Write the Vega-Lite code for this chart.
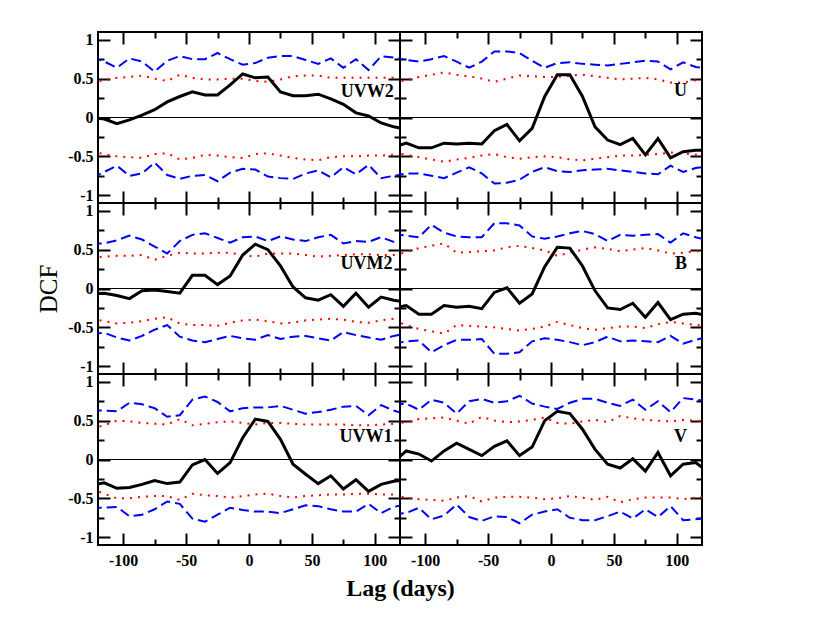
{
  "$schema": "https://vega.github.io/schema/vega-lite/v6.json",
  "background": "white",
  "padding": {"left": 35, "top": 30, "right": 10, "bottom": 10},
  "data": {
    "values": [
      {"band":"UVW2","lag":-125,"dcf":0.00,"r_hi":0.45,"r_lo":-0.44,"b_hi":0.78,"b_lo":-0.78},
      {"band":"UVW2","lag":-115,"dcf":-0.02,"r_hi":0.48,"r_lo":-0.47,"b_hi":0.72,"b_lo":-0.70},
      {"band":"UVW2","lag":-105,"dcf":-0.08,"r_hi":0.51,"r_lo":-0.50,"b_hi":0.64,"b_lo":-0.62},
      {"band":"UVW2","lag":-95,"dcf":-0.03,"r_hi":0.52,"r_lo":-0.51,"b_hi":0.76,"b_lo":-0.75},
      {"band":"UVW2","lag":-85,"dcf":0.03,"r_hi":0.54,"r_lo":-0.52,"b_hi":0.72,"b_lo":-0.72},
      {"band":"UVW2","lag":-75,"dcf":0.10,"r_hi":0.50,"r_lo":-0.47,"b_hi":0.59,"b_lo":-0.58},
      {"band":"UVW2","lag":-65,"dcf":0.20,"r_hi":0.47,"r_lo":-0.46,"b_hi":0.73,"b_lo":-0.74},
      {"band":"UVW2","lag":-55,"dcf":0.27,"r_hi":0.55,"r_lo":-0.54,"b_hi":0.79,"b_lo":-0.79},
      {"band":"UVW2","lag":-45,"dcf":0.33,"r_hi":0.51,"r_lo":-0.52,"b_hi":0.75,"b_lo":-0.75},
      {"band":"UVW2","lag":-35,"dcf":0.29,"r_hi":0.49,"r_lo":-0.48,"b_hi":0.75,"b_lo":-0.74},
      {"band":"UVW2","lag":-25,"dcf":0.29,"r_hi":0.49,"r_lo":-0.49,"b_hi":0.83,"b_lo":-0.82},
      {"band":"UVW2","lag":-15,"dcf":0.42,"r_hi":0.50,"r_lo":-0.51,"b_hi":0.75,"b_lo":-0.71},
      {"band":"UVW2","lag":-5,"dcf":0.56,"r_hi":0.50,"r_lo":-0.52,"b_hi":0.68,"b_lo":-0.66},
      {"band":"UVW2","lag":5,"dcf":0.51,"r_hi":0.47,"r_lo":-0.47,"b_hi":0.70,"b_lo":-0.67},
      {"band":"UVW2","lag":15,"dcf":0.52,"r_hi":0.46,"r_lo":-0.46,"b_hi":0.77,"b_lo":-0.76},
      {"band":"UVW2","lag":25,"dcf":0.33,"r_hi":0.49,"r_lo":-0.49,"b_hi":0.79,"b_lo":-0.78},
      {"band":"UVW2","lag":35,"dcf":0.28,"r_hi":0.53,"r_lo":-0.52,"b_hi":0.79,"b_lo":-0.79},
      {"band":"UVW2","lag":45,"dcf":0.28,"r_hi":0.54,"r_lo":-0.54,"b_hi":0.74,"b_lo":-0.72},
      {"band":"UVW2","lag":55,"dcf":0.30,"r_hi":0.54,"r_lo":-0.55,"b_hi":0.69,"b_lo":-0.68},
      {"band":"UVW2","lag":65,"dcf":0.24,"r_hi":0.51,"r_lo":-0.51,"b_hi":0.76,"b_lo":-0.77},
      {"band":"UVW2","lag":75,"dcf":0.17,"r_hi":0.51,"r_lo":-0.50,"b_hi":0.64,"b_lo":-0.64},
      {"band":"UVW2","lag":85,"dcf":0.06,"r_hi":0.51,"r_lo":-0.50,"b_hi":0.75,"b_lo":-0.73},
      {"band":"UVW2","lag":95,"dcf":0.02,"r_hi":0.51,"r_lo":-0.49,"b_hi":0.61,"b_lo":-0.61},
      {"band":"UVW2","lag":105,"dcf":-0.07,"r_hi":0.51,"r_lo":-0.49,"b_hi":0.79,"b_lo":-0.78},
      {"band":"UVW2","lag":115,"dcf":-0.12,"r_hi":0.51,"r_lo":-0.48,"b_hi":0.77,"b_lo":-0.75},
      {"band":"UVW2","lag":125,"dcf":-0.15,"r_hi":0.50,"r_lo":-0.48,"b_hi":0.75,"b_lo":-0.73},

      {"band":"U","lag":-125,"dcf":-0.38,"r_hi":0.45,"r_lo":-0.45,"b_hi":0.77,"b_lo":-0.75},
      {"band":"U","lag":-115,"dcf":-0.33,"r_hi":0.48,"r_lo":-0.48,"b_hi":0.74,"b_lo":-0.72},
      {"band":"U","lag":-105,"dcf":-0.39,"r_hi":0.52,"r_lo":-0.51,"b_hi":0.72,"b_lo":-0.72},
      {"band":"U","lag":-95,"dcf":-0.39,"r_hi":0.55,"r_lo":-0.54,"b_hi":0.75,"b_lo":-0.75},
      {"band":"U","lag":-85,"dcf":-0.33,"r_hi":0.58,"r_lo":-0.57,"b_hi":0.79,"b_lo":-0.78},
      {"band":"U","lag":-75,"dcf":-0.34,"r_hi":0.55,"r_lo":-0.54,"b_hi":0.72,"b_lo":-0.71},
      {"band":"U","lag":-65,"dcf":-0.33,"r_hi":0.53,"r_lo":-0.52,"b_hi":0.64,"b_lo":-0.64},
      {"band":"U","lag":-55,"dcf":-0.34,"r_hi":0.50,"r_lo":-0.49,"b_hi":0.72,"b_lo":-0.72},
      {"band":"U","lag":-45,"dcf":-0.17,"r_hi":0.46,"r_lo":-0.47,"b_hi":0.85,"b_lo":-0.85},
      {"band":"U","lag":-35,"dcf":-0.09,"r_hi":0.50,"r_lo":-0.51,"b_hi":0.85,"b_lo":-0.84},
      {"band":"U","lag":-25,"dcf":-0.30,"r_hi":0.54,"r_lo":-0.53,"b_hi":0.83,"b_lo":-0.80},
      {"band":"U","lag":-15,"dcf":-0.14,"r_hi":0.53,"r_lo":-0.51,"b_hi":0.73,"b_lo":-0.70},
      {"band":"U","lag":-5,"dcf":0.27,"r_hi":0.52,"r_lo":-0.50,"b_hi":0.64,"b_lo":-0.64},
      {"band":"U","lag":5,"dcf":0.55,"r_hi":0.52,"r_lo":-0.51,"b_hi":0.70,"b_lo":-0.69},
      {"band":"U","lag":15,"dcf":0.55,"r_hi":0.54,"r_lo":-0.54,"b_hi":0.71,"b_lo":-0.70},
      {"band":"U","lag":25,"dcf":0.27,"r_hi":0.55,"r_lo":-0.55,"b_hi":0.69,"b_lo":-0.68},
      {"band":"U","lag":35,"dcf":-0.12,"r_hi":0.53,"r_lo":-0.53,"b_hi":0.68,"b_lo":-0.67},
      {"band":"U","lag":45,"dcf":-0.29,"r_hi":0.51,"r_lo":-0.51,"b_hi":0.67,"b_lo":-0.66},
      {"band":"U","lag":55,"dcf":-0.35,"r_hi":0.49,"r_lo":-0.49,"b_hi":0.69,"b_lo":-0.68},
      {"band":"U","lag":65,"dcf":-0.27,"r_hi":0.50,"r_lo":-0.49,"b_hi":0.71,"b_lo":-0.70},
      {"band":"U","lag":75,"dcf":-0.48,"r_hi":0.51,"r_lo":-0.48,"b_hi":0.73,"b_lo":-0.72},
      {"band":"U","lag":85,"dcf":-0.27,"r_hi":0.49,"r_lo":-0.47,"b_hi":0.72,"b_lo":-0.73},
      {"band":"U","lag":95,"dcf":-0.52,"r_hi":0.45,"r_lo":-0.45,"b_hi":0.62,"b_lo":-0.62},
      {"band":"U","lag":105,"dcf":-0.44,"r_hi":0.45,"r_lo":-0.46,"b_hi":0.71,"b_lo":-0.70},
      {"band":"U","lag":115,"dcf":-0.42,"r_hi":0.48,"r_lo":-0.48,"b_hi":0.65,"b_lo":-0.65},
      {"band":"U","lag":125,"dcf":-0.42,"r_hi":0.50,"r_lo":-0.48,"b_hi":0.63,"b_lo":-0.63},

      {"band":"UVM2","lag":-125,"dcf":-0.07,"r_hi":0.40,"r_lo":-0.39,"b_hi":0.58,"b_lo":-0.58},
      {"band":"UVM2","lag":-115,"dcf":-0.06,"r_hi":0.41,"r_lo":-0.42,"b_hi":0.58,"b_lo":-0.57},
      {"band":"UVM2","lag":-105,"dcf":-0.09,"r_hi":0.42,"r_lo":-0.45,"b_hi":0.62,"b_lo":-0.63},
      {"band":"UVM2","lag":-95,"dcf":-0.13,"r_hi":0.42,"r_lo":-0.44,"b_hi":0.68,"b_lo":-0.67},
      {"band":"UVM2","lag":-85,"dcf":-0.03,"r_hi":0.43,"r_lo":-0.42,"b_hi":0.63,"b_lo":-0.61},
      {"band":"UVM2","lag":-75,"dcf":-0.02,"r_hi":0.37,"r_lo":-0.39,"b_hi":0.54,"b_lo":-0.53},
      {"band":"UVM2","lag":-65,"dcf":-0.04,"r_hi":0.42,"r_lo":-0.37,"b_hi":0.45,"b_lo":-0.47},
      {"band":"UVM2","lag":-55,"dcf":-0.06,"r_hi":0.46,"r_lo":-0.45,"b_hi":0.61,"b_lo":-0.62},
      {"band":"UVM2","lag":-45,"dcf":0.17,"r_hi":0.45,"r_lo":-0.47,"b_hi":0.69,"b_lo":-0.67},
      {"band":"UVM2","lag":-35,"dcf":0.17,"r_hi":0.45,"r_lo":-0.47,"b_hi":0.71,"b_lo":-0.69},
      {"band":"UVM2","lag":-25,"dcf":0.05,"r_hi":0.46,"r_lo":-0.48,"b_hi":0.65,"b_lo":-0.65},
      {"band":"UVM2","lag":-15,"dcf":0.16,"r_hi":0.46,"r_lo":-0.44,"b_hi":0.59,"b_lo":-0.61},
      {"band":"UVM2","lag":-5,"dcf":0.43,"r_hi":0.43,"r_lo":-0.41,"b_hi":0.66,"b_lo":-0.64},
      {"band":"UVM2","lag":5,"dcf":0.57,"r_hi":0.41,"r_lo":-0.40,"b_hi":0.67,"b_lo":-0.66},
      {"band":"UVM2","lag":15,"dcf":0.50,"r_hi":0.45,"r_lo":-0.42,"b_hi":0.61,"b_lo":-0.60},
      {"band":"UVM2","lag":25,"dcf":0.29,"r_hi":0.45,"r_lo":-0.45,"b_hi":0.67,"b_lo":-0.65},
      {"band":"UVM2","lag":35,"dcf":0.02,"r_hi":0.45,"r_lo":-0.44,"b_hi":0.63,"b_lo":-0.62},
      {"band":"UVM2","lag":45,"dcf":-0.12,"r_hi":0.43,"r_lo":-0.41,"b_hi":0.61,"b_lo":-0.61},
      {"band":"UVM2","lag":55,"dcf":-0.15,"r_hi":0.41,"r_lo":-0.40,"b_hi":0.66,"b_lo":-0.64},
      {"band":"UVM2","lag":65,"dcf":-0.08,"r_hi":0.42,"r_lo":-0.39,"b_hi":0.69,"b_lo":-0.67},
      {"band":"UVM2","lag":75,"dcf":-0.23,"r_hi":0.43,"r_lo":-0.40,"b_hi":0.58,"b_lo":-0.56},
      {"band":"UVM2","lag":85,"dcf":-0.06,"r_hi":0.44,"r_lo":-0.43,"b_hi":0.61,"b_lo":-0.60},
      {"band":"UVM2","lag":95,"dcf":-0.24,"r_hi":0.44,"r_lo":-0.44,"b_hi":0.60,"b_lo":-0.63},
      {"band":"UVM2","lag":105,"dcf":-0.11,"r_hi":0.43,"r_lo":-0.41,"b_hi":0.66,"b_lo":-0.66},
      {"band":"UVM2","lag":115,"dcf":-0.15,"r_hi":0.43,"r_lo":-0.39,"b_hi":0.60,"b_lo":-0.61},
      {"band":"UVM2","lag":125,"dcf":-0.18,"r_hi":0.43,"r_lo":-0.38,"b_hi":0.60,"b_lo":-0.58},

      {"band":"B","lag":-125,"dcf":-0.25,"r_hi":0.42,"r_lo":-0.41,"b_hi":0.70,"b_lo":-0.71},
      {"band":"B","lag":-115,"dcf":-0.22,"r_hi":0.47,"r_lo":-0.47,"b_hi":0.68,"b_lo":-0.68},
      {"band":"B","lag":-105,"dcf":-0.33,"r_hi":0.52,"r_lo":-0.52,"b_hi":0.66,"b_lo":-0.67},
      {"band":"B","lag":-95,"dcf":-0.33,"r_hi":0.55,"r_lo":-0.55,"b_hi":0.82,"b_lo":-0.82},
      {"band":"B","lag":-85,"dcf":-0.22,"r_hi":0.58,"r_lo":-0.58,"b_hi":0.72,"b_lo":-0.73},
      {"band":"B","lag":-75,"dcf":-0.24,"r_hi":0.46,"r_lo":-0.47,"b_hi":0.67,"b_lo":-0.66},
      {"band":"B","lag":-65,"dcf":-0.23,"r_hi":0.47,"r_lo":-0.48,"b_hi":0.66,"b_lo":-0.66},
      {"band":"B","lag":-55,"dcf":-0.26,"r_hi":0.48,"r_lo":-0.49,"b_hi":0.66,"b_lo":-0.65},
      {"band":"B","lag":-45,"dcf":-0.05,"r_hi":0.49,"r_lo":-0.50,"b_hi":0.84,"b_lo":-0.84},
      {"band":"B","lag":-35,"dcf":0.01,"r_hi":0.53,"r_lo":-0.52,"b_hi":0.84,"b_lo":-0.84},
      {"band":"B","lag":-25,"dcf":-0.19,"r_hi":0.55,"r_lo":-0.54,"b_hi":0.81,"b_lo":-0.82},
      {"band":"B","lag":-15,"dcf":-0.07,"r_hi":0.52,"r_lo":-0.52,"b_hi":0.67,"b_lo":-0.68},
      {"band":"B","lag":-5,"dcf":0.28,"r_hi":0.49,"r_lo":-0.49,"b_hi":0.64,"b_lo":-0.64},
      {"band":"B","lag":5,"dcf":0.53,"r_hi":0.42,"r_lo":-0.43,"b_hi":0.67,"b_lo":-0.66},
      {"band":"B","lag":15,"dcf":0.52,"r_hi":0.46,"r_lo":-0.47,"b_hi":0.71,"b_lo":-0.69},
      {"band":"B","lag":25,"dcf":0.29,"r_hi":0.50,"r_lo":-0.51,"b_hi":0.74,"b_lo":-0.73},
      {"band":"B","lag":35,"dcf":-0.03,"r_hi":0.53,"r_lo":-0.53,"b_hi":0.70,"b_lo":-0.69},
      {"band":"B","lag":45,"dcf":-0.25,"r_hi":0.51,"r_lo":-0.51,"b_hi":0.61,"b_lo":-0.62},
      {"band":"B","lag":55,"dcf":-0.27,"r_hi":0.48,"r_lo":-0.49,"b_hi":0.69,"b_lo":-0.68},
      {"band":"B","lag":65,"dcf":-0.19,"r_hi":0.50,"r_lo":-0.49,"b_hi":0.68,"b_lo":-0.67},
      {"band":"B","lag":75,"dcf":-0.37,"r_hi":0.52,"r_lo":-0.51,"b_hi":0.69,"b_lo":-0.68},
      {"band":"B","lag":85,"dcf":-0.18,"r_hi":0.49,"r_lo":-0.46,"b_hi":0.70,"b_lo":-0.69},
      {"band":"B","lag":95,"dcf":-0.40,"r_hi":0.45,"r_lo":-0.43,"b_hi":0.59,"b_lo":-0.61},
      {"band":"B","lag":105,"dcf":-0.33,"r_hi":0.46,"r_lo":-0.45,"b_hi":0.71,"b_lo":-0.71},
      {"band":"B","lag":115,"dcf":-0.32,"r_hi":0.48,"r_lo":-0.47,"b_hi":0.66,"b_lo":-0.66},
      {"band":"B","lag":125,"dcf":-0.35,"r_hi":0.48,"r_lo":-0.48,"b_hi":0.62,"b_lo":-0.62},

      {"band":"UVW1","lag":-125,"dcf":-0.33,"r_hi":0.40,"r_lo":-0.38,"b_hi":0.63,"b_lo":-0.62},
      {"band":"UVW1","lag":-115,"dcf":-0.30,"r_hi":0.44,"r_lo":-0.44,"b_hi":0.63,"b_lo":-0.62},
      {"band":"UVW1","lag":-105,"dcf":-0.37,"r_hi":0.50,"r_lo":-0.50,"b_hi":0.62,"b_lo":-0.61},
      {"band":"UVW1","lag":-95,"dcf":-0.36,"r_hi":0.49,"r_lo":-0.50,"b_hi":0.73,"b_lo":-0.73},
      {"band":"UVW1","lag":-85,"dcf":-0.32,"r_hi":0.47,"r_lo":-0.48,"b_hi":0.71,"b_lo":-0.71},
      {"band":"UVW1","lag":-75,"dcf":-0.27,"r_hi":0.46,"r_lo":-0.47,"b_hi":0.66,"b_lo":-0.64},
      {"band":"UVW1","lag":-65,"dcf":-0.31,"r_hi":0.45,"r_lo":-0.47,"b_hi":0.55,"b_lo":-0.54},
      {"band":"UVW1","lag":-55,"dcf":-0.29,"r_hi":0.52,"r_lo":-0.52,"b_hi":0.57,"b_lo":-0.57},
      {"band":"UVW1","lag":-45,"dcf":-0.07,"r_hi":0.44,"r_lo":-0.44,"b_hi":0.77,"b_lo":-0.76},
      {"band":"UVW1","lag":-35,"dcf":0.00,"r_hi":0.46,"r_lo":-0.46,"b_hi":0.81,"b_lo":-0.80},
      {"band":"UVW1","lag":-25,"dcf":-0.18,"r_hi":0.48,"r_lo":-0.47,"b_hi":0.74,"b_lo":-0.71},
      {"band":"UVW1","lag":-15,"dcf":-0.04,"r_hi":0.49,"r_lo":-0.49,"b_hi":0.62,"b_lo":-0.62},
      {"band":"UVW1","lag":-5,"dcf":0.28,"r_hi":0.47,"r_lo":-0.47,"b_hi":0.66,"b_lo":-0.65},
      {"band":"UVW1","lag":5,"dcf":0.52,"r_hi":0.45,"r_lo":-0.45,"b_hi":0.67,"b_lo":-0.67},
      {"band":"UVW1","lag":15,"dcf":0.49,"r_hi":0.47,"r_lo":-0.44,"b_hi":0.67,"b_lo":-0.67},
      {"band":"UVW1","lag":25,"dcf":0.26,"r_hi":0.47,"r_lo":-0.47,"b_hi":0.69,"b_lo":-0.69},
      {"band":"UVW1","lag":35,"dcf":-0.06,"r_hi":0.46,"r_lo":-0.49,"b_hi":0.64,"b_lo":-0.64},
      {"band":"UVW1","lag":45,"dcf":-0.19,"r_hi":0.45,"r_lo":-0.47,"b_hi":0.59,"b_lo":-0.59},
      {"band":"UVW1","lag":55,"dcf":-0.31,"r_hi":0.45,"r_lo":-0.46,"b_hi":0.61,"b_lo":-0.60},
      {"band":"UVW1","lag":65,"dcf":-0.21,"r_hi":0.45,"r_lo":-0.45,"b_hi":0.64,"b_lo":-0.64},
      {"band":"UVW1","lag":75,"dcf":-0.38,"r_hi":0.45,"r_lo":-0.45,"b_hi":0.68,"b_lo":-0.67},
      {"band":"UVW1","lag":85,"dcf":-0.26,"r_hi":0.44,"r_lo":-0.44,"b_hi":0.69,"b_lo":-0.67},
      {"band":"UVW1","lag":95,"dcf":-0.41,"r_hi":0.44,"r_lo":-0.44,"b_hi":0.57,"b_lo":-0.57},
      {"band":"UVW1","lag":105,"dcf":-0.32,"r_hi":0.45,"r_lo":-0.45,"b_hi":0.70,"b_lo":-0.69},
      {"band":"UVW1","lag":115,"dcf":-0.28,"r_hi":0.46,"r_lo":-0.45,"b_hi":0.63,"b_lo":-0.61},
      {"band":"UVW1","lag":125,"dcf":-0.26,"r_hi":0.47,"r_lo":-0.45,"b_hi":0.58,"b_lo":-0.58},

      {"band":"V","lag":-125,"dcf":-0.03,"r_hi":0.46,"r_lo":-0.47,"b_hi":0.70,"b_lo":-0.70},
      {"band":"V","lag":-115,"dcf":0.11,"r_hi":0.48,"r_lo":-0.49,"b_hi":0.72,"b_lo":-0.69},
      {"band":"V","lag":-105,"dcf":0.07,"r_hi":0.52,"r_lo":-0.51,"b_hi":0.64,"b_lo":-0.62},
      {"band":"V","lag":-95,"dcf":-0.02,"r_hi":0.53,"r_lo":-0.52,"b_hi":0.77,"b_lo":-0.77},
      {"band":"V","lag":-85,"dcf":0.11,"r_hi":0.54,"r_lo":-0.53,"b_hi":0.73,"b_lo":-0.72},
      {"band":"V","lag":-75,"dcf":0.21,"r_hi":0.50,"r_lo":-0.49,"b_hi":0.59,"b_lo":-0.58},
      {"band":"V","lag":-65,"dcf":0.13,"r_hi":0.46,"r_lo":-0.47,"b_hi":0.75,"b_lo":-0.74},
      {"band":"V","lag":-55,"dcf":0.05,"r_hi":0.55,"r_lo":-0.54,"b_hi":0.78,"b_lo":-0.79},
      {"band":"V","lag":-45,"dcf":0.17,"r_hi":0.50,"r_lo":-0.49,"b_hi":0.73,"b_lo":-0.73},
      {"band":"V","lag":-35,"dcf":0.24,"r_hi":0.48,"r_lo":-0.48,"b_hi":0.75,"b_lo":-0.74},
      {"band":"V","lag":-25,"dcf":0.05,"r_hi":0.49,"r_lo":-0.48,"b_hi":0.82,"b_lo":-0.82},
      {"band":"V","lag":-15,"dcf":0.16,"r_hi":0.51,"r_lo":-0.49,"b_hi":0.72,"b_lo":-0.71},
      {"band":"V","lag":-5,"dcf":0.50,"r_hi":0.54,"r_lo":-0.51,"b_hi":0.68,"b_lo":-0.67},
      {"band":"V","lag":5,"dcf":0.62,"r_hi":0.47,"r_lo":-0.50,"b_hi":0.65,"b_lo":-0.64},
      {"band":"V","lag":15,"dcf":0.59,"r_hi":0.46,"r_lo":-0.47,"b_hi":0.73,"b_lo":-0.75},
      {"band":"V","lag":25,"dcf":0.39,"r_hi":0.49,"r_lo":-0.49,"b_hi":0.78,"b_lo":-0.78},
      {"band":"V","lag":35,"dcf":0.13,"r_hi":0.51,"r_lo":-0.52,"b_hi":0.78,"b_lo":-0.78},
      {"band":"V","lag":45,"dcf":-0.06,"r_hi":0.48,"r_lo":-0.48,"b_hi":0.73,"b_lo":-0.73},
      {"band":"V","lag":55,"dcf":-0.11,"r_hi":0.56,"r_lo":-0.55,"b_hi":0.69,"b_lo":-0.67},
      {"band":"V","lag":65,"dcf":0.01,"r_hi":0.53,"r_lo":-0.51,"b_hi":0.77,"b_lo":-0.76},
      {"band":"V","lag":75,"dcf":-0.15,"r_hi":0.51,"r_lo":-0.49,"b_hi":0.64,"b_lo":-0.64},
      {"band":"V","lag":85,"dcf":0.09,"r_hi":0.50,"r_lo":-0.49,"b_hi":0.75,"b_lo":-0.74},
      {"band":"V","lag":95,"dcf":-0.21,"r_hi":0.49,"r_lo":-0.49,"b_hi":0.61,"b_lo":-0.60},
      {"band":"V","lag":105,"dcf":-0.06,"r_hi":0.51,"r_lo":-0.51,"b_hi":0.79,"b_lo":-0.78},
      {"band":"V","lag":115,"dcf":-0.04,"r_hi":0.50,"r_lo":-0.49,"b_hi":0.77,"b_lo":-0.77},
      {"band":"V","lag":125,"dcf":-0.16,"r_hi":0.49,"r_lo":-0.47,"b_hi":0.75,"b_lo":-0.75}
    ]
  },
  "columns": 2,
  "spacing": 0,
  "bounds": "flush",
  "concat": [
    {
      "width": 302, "height": 171,
      "resolve": {"axis": {"x": "independent", "y": "independent"}},
      "layer": [
        {"transform": [{"filter": "datum.band === 'UVW2'"}], "mark": {"type": "line", "clip": true, "color": "#0000ff", "strokeWidth": 2, "strokeDash": [10, 5]},
         "encoding": {"x": {"field": "lag", "type": "quantitative", "axis": null}, "y": {"field": "b_hi", "type": "quantitative", "axis": null}}},
        {"transform": [{"filter": "datum.band === 'UVW2'"}], "mark": {"type": "line", "clip": true, "color": "#0000ff", "strokeWidth": 2, "strokeDash": [10, 5]},
         "encoding": {"x": {"field": "lag", "type": "quantitative", "axis": null}, "y": {"field": "b_lo", "type": "quantitative", "axis": null}}},
        {"transform": [{"filter": "datum.band === 'UVW2'"}], "mark": {"type": "line", "clip": true, "color": "#ff0000", "strokeWidth": 2, "strokeDash": [2, 6]},
         "encoding": {"x": {"field": "lag", "type": "quantitative", "axis": null}, "y": {"field": "r_hi", "type": "quantitative", "axis": null}}},
        {"transform": [{"filter": "datum.band === 'UVW2'"}], "mark": {"type": "line", "clip": true, "color": "#ff0000", "strokeWidth": 2, "strokeDash": [2, 6]},
         "encoding": {"x": {"field": "lag", "type": "quantitative", "axis": null}, "y": {"field": "r_lo", "type": "quantitative", "axis": null}}},
        {"data": {"values": [{}]}, "mark": {"type": "rule", "color": "black", "strokeWidth": 1},
         "encoding": {
           "x": {"datum": -120, "type": "quantitative", "axis": {"orient": "top", "values": [-100, -75, -50, -25, 0, 25, 50, 75, 100], "tickSize": {"condition": {"test": "datum.value % 50 === 0", "value": -12}, "value": -6}, "labels": false, "title": null}},
           "x2": {"datum": 120},
           "y": {"datum": 0, "type": "quantitative", "axis": {"orient": "right", "values": [-1, -0.75, -0.5, -0.25, 0, 0.25, 0.5, 0.75, 1], "tickSize": {"condition": {"test": "datum.value % 0.5 === 0", "value": -12}, "value": -6}, "labels": false, "title": null}}}},
        {"transform": [{"filter": "datum.band === 'UVW2'"}], "mark": {"type": "line", "clip": true, "color": "black", "strokeWidth": 3},
         "encoding": {
           "x": {"field": "lag", "type": "quantitative", "scale": {"domain": [-120, 120], "nice": false}, "axis": {"orient": "bottom", "values": [-100, -75, -50, -25, 0, 25, 50, 75, 100], "tickSize": {"condition": {"test": "datum.value % 50 === 0", "value": -12}, "value": -6}, "labels": false, "title": null}},
           "y": {"field": "dcf", "type": "quantitative", "scale": {"domain": [-1.1, 1.1], "nice": false}, "axis": {"orient": "left", "values": [-1, -0.75, -0.5, -0.25, 0, 0.25, 0.5, 0.75, 1], "tickSize": {"condition": {"test": "datum.value % 0.5 === 0", "value": -12}, "value": -6}, "labelExpr": "datum.value % 0.5 === 0 ? datum.value + '' : ''", "labelPadding": 17, "title": null}}}},
        {"data": {"values": [{}]}, "mark": {"type": "text", "text": "UVW2", "align": "right", "baseline": "alphabetic", "font": "Liberation Serif", "fontWeight": "bold", "fontSize": 18, "color": "black"},
         "encoding": {"x": {"datum": 115, "type": "quantitative", "axis": null}, "y": {"datum": 0.265, "type": "quantitative", "axis": null}}}
      ]
    },
    {
      "width": 302, "height": 171,
      "resolve": {"axis": {"x": "independent", "y": "independent"}},
      "layer": [
        {"transform": [{"filter": "datum.band === 'U'"}], "mark": {"type": "line", "clip": true, "color": "#0000ff", "strokeWidth": 2, "strokeDash": [10, 5]},
         "encoding": {"x": {"field": "lag", "type": "quantitative", "axis": null}, "y": {"field": "b_hi", "type": "quantitative", "axis": null}}},
        {"transform": [{"filter": "datum.band === 'U'"}], "mark": {"type": "line", "clip": true, "color": "#0000ff", "strokeWidth": 2, "strokeDash": [10, 5]},
         "encoding": {"x": {"field": "lag", "type": "quantitative", "axis": null}, "y": {"field": "b_lo", "type": "quantitative", "axis": null}}},
        {"transform": [{"filter": "datum.band === 'U'"}], "mark": {"type": "line", "clip": true, "color": "#ff0000", "strokeWidth": 2, "strokeDash": [2, 6]},
         "encoding": {"x": {"field": "lag", "type": "quantitative", "axis": null}, "y": {"field": "r_hi", "type": "quantitative", "axis": null}}},
        {"transform": [{"filter": "datum.band === 'U'"}], "mark": {"type": "line", "clip": true, "color": "#ff0000", "strokeWidth": 2, "strokeDash": [2, 6]},
         "encoding": {"x": {"field": "lag", "type": "quantitative", "axis": null}, "y": {"field": "r_lo", "type": "quantitative", "axis": null}}},
        {"data": {"values": [{}]}, "mark": {"type": "rule", "color": "black", "strokeWidth": 1},
         "encoding": {
           "x": {"datum": -120, "type": "quantitative", "axis": {"orient": "top", "values": [-100, -75, -50, -25, 0, 25, 50, 75, 100], "tickSize": {"condition": {"test": "datum.value % 50 === 0", "value": -12}, "value": -6}, "labels": false, "title": null}},
           "x2": {"datum": 120},
           "y": {"datum": 0, "type": "quantitative", "axis": {"orient": "right", "values": [-1, -0.75, -0.5, -0.25, 0, 0.25, 0.5, 0.75, 1], "tickSize": {"condition": {"test": "datum.value % 0.5 === 0", "value": -12}, "value": -6}, "labels": false, "title": null}}}},
        {"transform": [{"filter": "datum.band === 'U'"}], "mark": {"type": "line", "clip": true, "color": "black", "strokeWidth": 3},
         "encoding": {
           "x": {"field": "lag", "type": "quantitative", "scale": {"domain": [-120, 120], "nice": false}, "axis": {"orient": "bottom", "values": [-100, -75, -50, -25, 0, 25, 50, 75, 100], "tickSize": {"condition": {"test": "datum.value % 50 === 0", "value": -12}, "value": -6}, "labels": false, "title": null}},
           "y": {"field": "dcf", "type": "quantitative", "scale": {"domain": [-1.1, 1.1], "nice": false}, "axis": {"orient": "left", "values": [-1, -0.75, -0.5, -0.25, 0, 0.25, 0.5, 0.75, 1], "tickSize": {"condition": {"test": "datum.value % 0.5 === 0", "value": -12}, "value": -6}, "labels": false, "title": null}}}},
        {"data": {"values": [{}]}, "mark": {"type": "text", "text": "U", "align": "right", "baseline": "alphabetic", "font": "Liberation Serif", "fontWeight": "bold", "fontSize": 18, "color": "black"},
         "encoding": {"x": {"datum": 108, "type": "quantitative", "axis": null}, "y": {"datum": 0.28, "type": "quantitative", "axis": null}}}
      ]
    },
    {
      "width": 302, "height": 171,
      "resolve": {"axis": {"x": "independent", "y": "independent"}},
      "layer": [
        {"transform": [{"filter": "datum.band === 'UVM2'"}], "mark": {"type": "line", "clip": true, "color": "#0000ff", "strokeWidth": 2, "strokeDash": [10, 5]},
         "encoding": {"x": {"field": "lag", "type": "quantitative", "axis": null}, "y": {"field": "b_hi", "type": "quantitative", "axis": null}}},
        {"transform": [{"filter": "datum.band === 'UVM2'"}], "mark": {"type": "line", "clip": true, "color": "#0000ff", "strokeWidth": 2, "strokeDash": [10, 5]},
         "encoding": {"x": {"field": "lag", "type": "quantitative", "axis": null}, "y": {"field": "b_lo", "type": "quantitative", "axis": null}}},
        {"transform": [{"filter": "datum.band === 'UVM2'"}], "mark": {"type": "line", "clip": true, "color": "#ff0000", "strokeWidth": 2, "strokeDash": [2, 6]},
         "encoding": {"x": {"field": "lag", "type": "quantitative", "axis": null}, "y": {"field": "r_hi", "type": "quantitative", "axis": null}}},
        {"transform": [{"filter": "datum.band === 'UVM2'"}], "mark": {"type": "line", "clip": true, "color": "#ff0000", "strokeWidth": 2, "strokeDash": [2, 6]},
         "encoding": {"x": {"field": "lag", "type": "quantitative", "axis": null}, "y": {"field": "r_lo", "type": "quantitative", "axis": null}}},
        {"data": {"values": [{}]}, "mark": {"type": "rule", "color": "black", "strokeWidth": 1},
         "encoding": {
           "x": {"datum": -120, "type": "quantitative", "axis": {"orient": "top", "values": [-100, -75, -50, -25, 0, 25, 50, 75, 100], "tickSize": {"condition": {"test": "datum.value % 50 === 0", "value": -12}, "value": -6}, "labels": false, "title": null}},
           "x2": {"datum": 120},
           "y": {"datum": 0, "type": "quantitative", "axis": {"orient": "right", "values": [-1, -0.75, -0.5, -0.25, 0, 0.25, 0.5, 0.75, 1], "tickSize": {"condition": {"test": "datum.value % 0.5 === 0", "value": -12}, "value": -6}, "labels": false, "title": null}}}},
        {"transform": [{"filter": "datum.band === 'UVM2'"}], "mark": {"type": "line", "clip": true, "color": "black", "strokeWidth": 3},
         "encoding": {
           "x": {"field": "lag", "type": "quantitative", "scale": {"domain": [-120, 120], "nice": false}, "axis": {"orient": "bottom", "values": [-100, -75, -50, -25, 0, 25, 50, 75, 100], "tickSize": {"condition": {"test": "datum.value % 50 === 0", "value": -12}, "value": -6}, "labels": false, "title": null}},
           "y": {"field": "dcf", "type": "quantitative", "scale": {"domain": [-1.1, 1.1], "nice": false}, "axis": {"orient": "left", "values": [-1, -0.75, -0.5, -0.25, 0, 0.25, 0.5, 0.75, 1], "tickSize": {"condition": {"test": "datum.value % 0.5 === 0", "value": -12}, "value": -6}, "labelExpr": "datum.value % 0.5 === 0 ? datum.value + '' : ''", "labelPadding": 17, "title": "DCF", "titleFont": "Liberation Serif", "titleFontWeight": "normal", "titleFontSize": 25, "titlePadding": 6}}}},
        {"data": {"values": [{}]}, "mark": {"type": "text", "text": "UVM2", "align": "right", "baseline": "alphabetic", "font": "Liberation Serif", "fontWeight": "bold", "fontSize": 18, "color": "black"},
         "encoding": {"x": {"datum": 114, "type": "quantitative", "axis": null}, "y": {"datum": 0.25, "type": "quantitative", "axis": null}}}
      ]
    },
    {
      "width": 302, "height": 171,
      "resolve": {"axis": {"x": "independent", "y": "independent"}},
      "layer": [
        {"transform": [{"filter": "datum.band === 'B'"}], "mark": {"type": "line", "clip": true, "color": "#0000ff", "strokeWidth": 2, "strokeDash": [10, 5]},
         "encoding": {"x": {"field": "lag", "type": "quantitative", "axis": null}, "y": {"field": "b_hi", "type": "quantitative", "axis": null}}},
        {"transform": [{"filter": "datum.band === 'B'"}], "mark": {"type": "line", "clip": true, "color": "#0000ff", "strokeWidth": 2, "strokeDash": [10, 5]},
         "encoding": {"x": {"field": "lag", "type": "quantitative", "axis": null}, "y": {"field": "b_lo", "type": "quantitative", "axis": null}}},
        {"transform": [{"filter": "datum.band === 'B'"}], "mark": {"type": "line", "clip": true, "color": "#ff0000", "strokeWidth": 2, "strokeDash": [2, 6]},
         "encoding": {"x": {"field": "lag", "type": "quantitative", "axis": null}, "y": {"field": "r_hi", "type": "quantitative", "axis": null}}},
        {"transform": [{"filter": "datum.band === 'B'"}], "mark": {"type": "line", "clip": true, "color": "#ff0000", "strokeWidth": 2, "strokeDash": [2, 6]},
         "encoding": {"x": {"field": "lag", "type": "quantitative", "axis": null}, "y": {"field": "r_lo", "type": "quantitative", "axis": null}}},
        {"data": {"values": [{}]}, "mark": {"type": "rule", "color": "black", "strokeWidth": 1},
         "encoding": {
           "x": {"datum": -120, "type": "quantitative", "axis": {"orient": "top", "values": [-100, -75, -50, -25, 0, 25, 50, 75, 100], "tickSize": {"condition": {"test": "datum.value % 50 === 0", "value": -12}, "value": -6}, "labels": false, "title": null}},
           "x2": {"datum": 120},
           "y": {"datum": 0, "type": "quantitative", "axis": {"orient": "right", "values": [-1, -0.75, -0.5, -0.25, 0, 0.25, 0.5, 0.75, 1], "tickSize": {"condition": {"test": "datum.value % 0.5 === 0", "value": -12}, "value": -6}, "labels": false, "title": null}}}},
        {"transform": [{"filter": "datum.band === 'B'"}], "mark": {"type": "line", "clip": true, "color": "black", "strokeWidth": 3},
         "encoding": {
           "x": {"field": "lag", "type": "quantitative", "scale": {"domain": [-120, 120], "nice": false}, "axis": {"orient": "bottom", "values": [-100, -75, -50, -25, 0, 25, 50, 75, 100], "tickSize": {"condition": {"test": "datum.value % 50 === 0", "value": -12}, "value": -6}, "labels": false, "title": null}},
           "y": {"field": "dcf", "type": "quantitative", "scale": {"domain": [-1.1, 1.1], "nice": false}, "axis": {"orient": "left", "values": [-1, -0.75, -0.5, -0.25, 0, 0.25, 0.5, 0.75, 1], "tickSize": {"condition": {"test": "datum.value % 0.5 === 0", "value": -12}, "value": -6}, "labels": false, "title": null}}}},
        {"data": {"values": [{}]}, "mark": {"type": "text", "text": "B", "align": "right", "baseline": "alphabetic", "font": "Liberation Serif", "fontWeight": "bold", "fontSize": 18, "color": "black"},
         "encoding": {"x": {"datum": 108, "type": "quantitative", "axis": null}, "y": {"datum": 0.25, "type": "quantitative", "axis": null}}}
      ]
    },
    {
      "width": 302, "height": 171,
      "resolve": {"axis": {"x": "independent", "y": "independent"}},
      "layer": [
        {"transform": [{"filter": "datum.band === 'UVW1'"}], "mark": {"type": "line", "clip": true, "color": "#0000ff", "strokeWidth": 2, "strokeDash": [10, 5]},
         "encoding": {"x": {"field": "lag", "type": "quantitative", "axis": null}, "y": {"field": "b_hi", "type": "quantitative", "axis": null}}},
        {"transform": [{"filter": "datum.band === 'UVW1'"}], "mark": {"type": "line", "clip": true, "color": "#0000ff", "strokeWidth": 2, "strokeDash": [10, 5]},
         "encoding": {"x": {"field": "lag", "type": "quantitative", "axis": null}, "y": {"field": "b_lo", "type": "quantitative", "axis": null}}},
        {"transform": [{"filter": "datum.band === 'UVW1'"}], "mark": {"type": "line", "clip": true, "color": "#ff0000", "strokeWidth": 2, "strokeDash": [2, 6]},
         "encoding": {"x": {"field": "lag", "type": "quantitative", "axis": null}, "y": {"field": "r_hi", "type": "quantitative", "axis": null}}},
        {"transform": [{"filter": "datum.band === 'UVW1'"}], "mark": {"type": "line", "clip": true, "color": "#ff0000", "strokeWidth": 2, "strokeDash": [2, 6]},
         "encoding": {"x": {"field": "lag", "type": "quantitative", "axis": null}, "y": {"field": "r_lo", "type": "quantitative", "axis": null}}},
        {"data": {"values": [{}]}, "mark": {"type": "rule", "color": "black", "strokeWidth": 1},
         "encoding": {
           "x": {"datum": -120, "type": "quantitative", "axis": {"orient": "top", "values": [-100, -75, -50, -25, 0, 25, 50, 75, 100], "tickSize": {"condition": {"test": "datum.value % 50 === 0", "value": -12}, "value": -6}, "labels": false, "title": null}},
           "x2": {"datum": 120},
           "y": {"datum": 0, "type": "quantitative", "axis": {"orient": "right", "values": [-1, -0.75, -0.5, -0.25, 0, 0.25, 0.5, 0.75, 1], "tickSize": {"condition": {"test": "datum.value % 0.5 === 0", "value": -12}, "value": -6}, "labels": false, "title": null}}}},
        {"transform": [{"filter": "datum.band === 'UVW1'"}], "mark": {"type": "line", "clip": true, "color": "black", "strokeWidth": 3},
         "encoding": {
           "x": {"field": "lag", "type": "quantitative", "scale": {"domain": [-120, 120], "nice": false}, "axis": {"orient": "bottom", "values": [-100, -75, -50, -25, 0, 25, 50, 75, 100], "tickSize": {"condition": {"test": "datum.value % 50 === 0", "value": -12}, "value": -6}, "labelExpr": "datum.value % 50 === 0 ? datum.value + '' : ''", "labelPadding": 19, "title": "Lag (days)", "titleFont": "Liberation Serif", "titleFontWeight": "bold", "titleFontSize": 24, "titlePadding": 2, "titleX": 302, "titleAlign": "center"}},
           "y": {"field": "dcf", "type": "quantitative", "scale": {"domain": [-1.1, 1.1], "nice": false}, "axis": {"orient": "left", "values": [-1, -0.75, -0.5, -0.25, 0, 0.25, 0.5, 0.75, 1], "tickSize": {"condition": {"test": "datum.value % 0.5 === 0", "value": -12}, "value": -6}, "labelExpr": "datum.value % 0.5 === 0 ? datum.value + '' : ''", "labelPadding": 17, "title": null}}}},
        {"data": {"values": [{}]}, "mark": {"type": "text", "text": "UVW1", "align": "right", "baseline": "alphabetic", "font": "Liberation Serif", "fontWeight": "bold", "fontSize": 18, "color": "black"},
         "encoding": {"x": {"datum": 114, "type": "quantitative", "axis": null}, "y": {"datum": 0.22, "type": "quantitative", "axis": null}}}
      ]
    },
    {
      "width": 302, "height": 171,
      "resolve": {"axis": {"x": "independent", "y": "independent"}},
      "layer": [
        {"transform": [{"filter": "datum.band === 'V'"}], "mark": {"type": "line", "clip": true, "color": "#0000ff", "strokeWidth": 2, "strokeDash": [10, 5]},
         "encoding": {"x": {"field": "lag", "type": "quantitative", "axis": null}, "y": {"field": "b_hi", "type": "quantitative", "axis": null}}},
        {"transform": [{"filter": "datum.band === 'V'"}], "mark": {"type": "line", "clip": true, "color": "#0000ff", "strokeWidth": 2, "strokeDash": [10, 5]},
         "encoding": {"x": {"field": "lag", "type": "quantitative", "axis": null}, "y": {"field": "b_lo", "type": "quantitative", "axis": null}}},
        {"transform": [{"filter": "datum.band === 'V'"}], "mark": {"type": "line", "clip": true, "color": "#ff0000", "strokeWidth": 2, "strokeDash": [2, 6]},
         "encoding": {"x": {"field": "lag", "type": "quantitative", "axis": null}, "y": {"field": "r_hi", "type": "quantitative", "axis": null}}},
        {"transform": [{"filter": "datum.band === 'V'"}], "mark": {"type": "line", "clip": true, "color": "#ff0000", "strokeWidth": 2, "strokeDash": [2, 6]},
         "encoding": {"x": {"field": "lag", "type": "quantitative", "axis": null}, "y": {"field": "r_lo", "type": "quantitative", "axis": null}}},
        {"data": {"values": [{}]}, "mark": {"type": "rule", "color": "black", "strokeWidth": 1},
         "encoding": {
           "x": {"datum": -120, "type": "quantitative", "axis": {"orient": "top", "values": [-100, -75, -50, -25, 0, 25, 50, 75, 100], "tickSize": {"condition": {"test": "datum.value % 50 === 0", "value": -12}, "value": -6}, "labels": false, "title": null}},
           "x2": {"datum": 120},
           "y": {"datum": 0, "type": "quantitative", "axis": {"orient": "right", "values": [-1, -0.75, -0.5, -0.25, 0, 0.25, 0.5, 0.75, 1], "tickSize": {"condition": {"test": "datum.value % 0.5 === 0", "value": -12}, "value": -6}, "labels": false, "title": null}}}},
        {"transform": [{"filter": "datum.band === 'V'"}], "mark": {"type": "line", "clip": true, "color": "black", "strokeWidth": 3},
         "encoding": {
           "x": {"field": "lag", "type": "quantitative", "scale": {"domain": [-120, 120], "nice": false}, "axis": {"orient": "bottom", "values": [-100, -75, -50, -25, 0, 25, 50, 75, 100], "tickSize": {"condition": {"test": "datum.value % 50 === 0", "value": -12}, "value": -6}, "labelExpr": "datum.value % 50 === 0 ? datum.value + '' : ''", "labelPadding": 19, "title": null}},
           "y": {"field": "dcf", "type": "quantitative", "scale": {"domain": [-1.1, 1.1], "nice": false}, "axis": {"orient": "left", "values": [-1, -0.75, -0.5, -0.25, 0, 0.25, 0.5, 0.75, 1], "tickSize": {"condition": {"test": "datum.value % 0.5 === 0", "value": -12}, "value": -6}, "labels": false, "title": null}}}},
        {"data": {"values": [{}]}, "mark": {"type": "text", "text": "V", "align": "right", "baseline": "alphabetic", "font": "Liberation Serif", "fontWeight": "bold", "fontSize": 18, "color": "black"},
         "encoding": {"x": {"datum": 108, "type": "quantitative", "axis": null}, "y": {"datum": 0.22, "type": "quantitative", "axis": null}}}
      ]
    }
  ],
  "config": {
    "view": {"stroke": "black", "strokeWidth": 2},
    "axis": {
      "domain": false,
      "grid": false,
      "tickColor": "black",
      "tickWidth": 2,
      "labelFont": "Liberation Serif",
      "labelFontWeight": "bold",
      "labelFontSize": 16,
      "labelColor": "black",
      "labelFlush": false,
      "labelOverlap": false,
      "titleColor": "black"
    }
  }
}
